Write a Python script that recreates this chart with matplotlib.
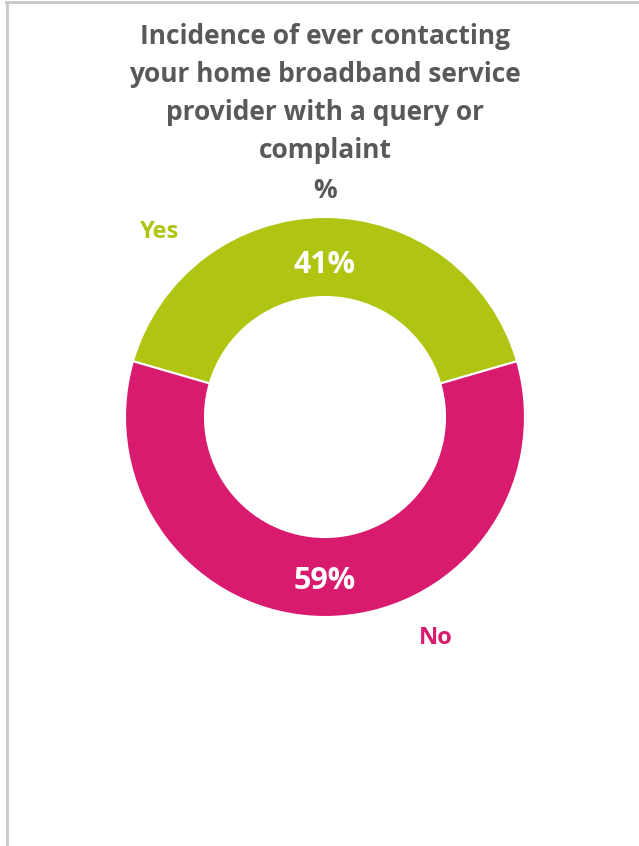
import matplotlib
matplotlib.use("Agg")
import matplotlib.pyplot as plt
from matplotlib.lines import Line2D
import numpy as np

categories = ["Yes", "No"]
values = [41, 59]
colors = ["#AFC512", "#D81B6E"]
title_lines = ["Incidence of ever contacting", "your home broadband service",
               "provider with a query or", "complaint", "%"]

plt.rcParams['font.family'] = ['Open Sans', 'DejaVu Sans']

W, H = 639, 846
fig = plt.figure(figsize=(W/100, H/100), dpi=100)
fig.patch.set_facecolor("white")

# donut axes: center (325, 417), outer radius 200
cx, cy, r = 325, 417, 200
ax = fig.add_axes([(cx - r)/W, 1 - (cy + r)/H, 2*r/W, 2*r/H])

start = 90 - values[0] / sum(values) * 360 / 2
wedges, _ = ax.pie(values, colors=colors, startangle=start, counterclock=True,
                   radius=1, wedgeprops=dict(width=0.4, edgecolor='white', linewidth=1.5))
ax.set_xlim(-1, 1); ax.set_ylim(-1, 1)
ax.set_aspect('equal'); ax.axis('off')

cum = np.cumsum([0] + values)
for i, v in enumerate(values):
    ang = np.deg2rad(start + (cum[i] + v/2) / sum(values) * 360)
    rr = 0.79
    ax.annotate(f"{v}%", (rr*np.cos(ang), rr*np.sin(ang)), xytext=(0, -4.5),
                textcoords='offset points', ha='center', va='center',
                color='white', fontsize=22, fontweight='bold')

# category labels
fig.text(160/W, 1 - 232/H, categories[0], color=colors[0], fontsize=17,
         fontweight='bold', ha='center', va='center')
fig.text(436/W, 1 - 638/H, categories[1], color=colors[1], fontsize=17,
         fontweight='bold', ha='center', va='center')

# title
ys = [36, 74, 112, 150, 190]
for t, y in zip(title_lines, ys):
    fig.text(325/W, 1 - y/H, t, color="#595959", fontsize=19, fontweight='bold',
             ha='center', va='center')

# border lines (top and left)
fig.add_artist(Line2D([6/W, 1], [1 - 2.5/H, 1 - 2.5/H], transform=fig.transFigure,
                      color="#C8C8C8", linewidth=2))
fig.add_artist(Line2D([6.5/W, 6.5/W], [0, 1 - 2/H], transform=fig.transFigure,
                      color="#C8C8C8", linewidth=2))

fig.savefig("out.png", dpi=100, facecolor="white")
